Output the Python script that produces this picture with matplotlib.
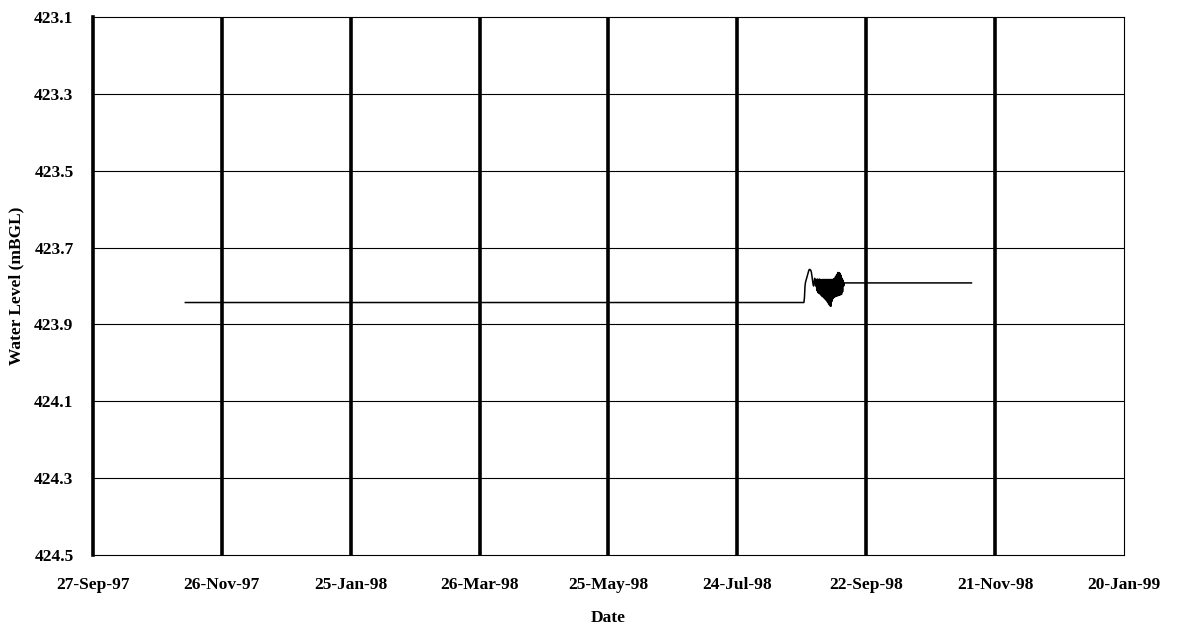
import matplotlib
matplotlib.use("Agg")
import matplotlib.pyplot as plt
import matplotlib.dates as mdates
import pandas as pd

# manual dip readings (flat segments)
manual_dates_1 = ["1997-11-09 00:00", "1998-08-24 00:00"]
manual_level_1 = [423.843, 423.843]

# logger readings, every 6 hours from 24-Aug-98
logger_start = "1998-08-24 00:00"
logger_level = [
    423.843, 423.830, 423.800, 423.790, 423.785, 423.780, 423.775, 423.770,
    423.765, 423.760, 423.757, 423.757, 423.758, 423.760, 423.765, 423.775,
    423.785, 423.795, 423.800, 423.790, 423.780, 423.790, 423.800,
    423.783, 423.812, 423.782, 423.817, 423.783, 423.819, 423.782, 423.821,
    423.783, 423.824, 423.784, 423.827, 423.783, 423.829, 423.783, 423.832,
    423.783, 423.835, 423.783, 423.838, 423.783, 423.842, 423.783, 423.847,
    423.783, 423.851, 423.783, 423.853, 423.783, 423.840, 423.783, 423.833,
    423.782, 423.830, 423.780, 423.828, 423.775, 423.827, 423.770, 423.826,
    423.765, 423.825, 423.765, 423.824, 423.767, 423.823, 423.772, 423.822,
    423.780, 423.815, 423.785, 423.800, 423.792,
]

manual_dates_2 = ["1998-09-11 18:00", "1998-11-10 00:00"]
manual_level_2 = [423.792, 423.792]

x_ticks = ["1997-09-27", "1997-11-26", "1998-01-25", "1998-03-26", "1998-05-25",
           "1998-07-24", "1998-09-22", "1998-11-21", "1999-01-20"]
y_ticks = [423.1, 423.3, 423.5, 423.7, 423.9, 424.1, 424.3, 424.5]

logger_dates = pd.date_range(logger_start, periods=len(logger_level), freq="6h")
all_dates = list(pd.to_datetime(manual_dates_1)) + list(logger_dates) + list(pd.to_datetime(manual_dates_2))
all_level = manual_level_1 + logger_level + manual_level_2

plt.rcParams["font.family"] = "Liberation Serif"
plt.rcParams["font.weight"] = "bold"

fig = plt.figure(figsize=(11.8, 6.28), dpi=100)
ax = fig.add_axes([0.0788, 0.1162, 0.8737, 0.8568])

xt = pd.to_datetime(x_ticks)
for d in xt[1:-1]:
    ax.axvline(d, color="black", lw=2.6, zorder=1)
for v in y_ticks[1:-1]:
    ax.axhline(v, color="black", lw=0.8, zorder=1)

ax.plot(all_dates, all_level, color="black", lw=1.1, zorder=3)

ax.set_xlim(xt[0], xt[-1])
ax.set_ylim(424.5, 423.1)
ax.set_xticks(xt)
ax.xaxis.set_major_formatter(mdates.DateFormatter("%d-%b-%y"))
ax.set_yticks(y_ticks)
ax.set_yticklabels([f"{v:.1f}" for v in y_ticks])
ax.tick_params(axis="both", length=0, labelsize=12.5)
ax.tick_params(axis="y", pad=14)
ax.tick_params(axis="x", pad=16)

for s in ["top", "bottom", "right"]:
    ax.spines[s].set_linewidth(0.8)
ax.spines["left"].set_linewidth(2.6)

ax.set_xlabel("Date", fontsize=12.5, fontweight="bold", labelpad=12)
ax.set_ylabel("Water Level (mBGL)", fontsize=12.5, fontweight="bold", labelpad=7)

fig.savefig("out.png", dpi=100)
